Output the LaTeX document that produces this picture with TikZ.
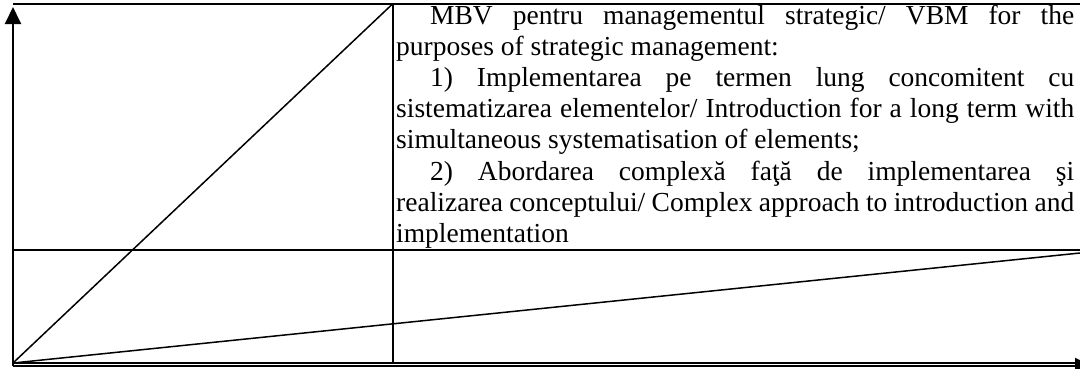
\documentclass[tikz,border=0pt]{standalone}
\usepackage{fontspec}
\setmainfont{Liberation Serif}
\usetikzlibrary{arrows.meta}
\tikzset{
  frameline/.style={line width=2pt},
  diagline/.style={line width=1.5pt},
  axisline/.style={line width=2pt,-{Triangle[length=17pt,width=16pt]}},
  bodytext/.style={anchor=north west,inner sep=0pt,text width=678pt,align=justify,
    font=\fontsize{27.5pt}{31.2pt}\selectfont}
}
\begin{document}
\begin{tikzpicture}[x=1pt,y=-1pt]
\useasboundingbox (0,0) rectangle (1080,368);
\clip (0,0) rectangle (1080,368);
\coordinate (TL) at (13,4);
\coordinate (TR) at (1082,4);
\coordinate (DT) at (392.5,4);
\coordinate (DB) at (392.5,363);
\coordinate (ML) at (13,250);
\coordinate (MR) at (1082,250);
\coordinate (O) at (13,363);
\coordinate (BR) at (1076,363);
\coordinate (SR) at (1080,253);
\coordinate (XA) at (13,366);
\coordinate (XB) at (1092,366);
\coordinate (YA) at (13,366);
\coordinate (YB) at (13,7);
% frame
\draw[frameline] (TL) -- (TR);
\draw[frameline] (DT) -- (DB);
\draw[frameline] (ML) -- (MR);
\draw[frameline] (O) -- (BR);
% diagonals
\draw[diagline] (O) -- (DT);
\draw[diagline] (O) -- (SR);
% axes
\draw[axisline] (YA) -- (YB);
\draw[axisline] (XA) -- (XB);
% text
\node[bodytext] (txt) at (396,4.5) {\tolerance=10000\hyphenpenalty=10000\parindent=0pt
\hspace*{34pt}MBV pentru managementul strategic/ VBM for the\linebreak
purposes of strategic management:\par
\hspace*{34pt}1) Implementarea pe termen lung concomitent cu\linebreak
sistematizarea elementelor/ Introduction for a long term with\linebreak
simultaneous systematisation of elements;\par
\hspace*{34pt}2) Abordarea complexă faţă de implementarea şi\linebreak
realizarea conceptului/ Complex approach to introduction and\linebreak
implementation\par};
\end{tikzpicture}
\end{document}
